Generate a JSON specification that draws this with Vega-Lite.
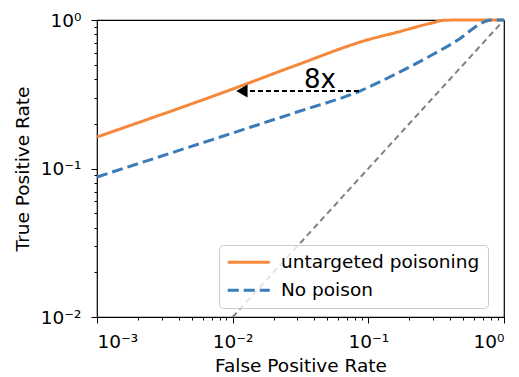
{
  "$schema": "https://vega.github.io/schema/vega-lite/v6.json",
  "width": 407,
  "height": 297,
  "autosize": "none",
  "padding": {"left": 97, "top": 20, "right": 15, "bottom": 60},
  "config": {
    "font": "DejaVu Sans",
    "view": {"stroke": "black", "strokeWidth": 1.2},
    "axis": {
      "domain": false,
      "grid": false,
      "ticks": true,
      "tickColor": "black",
      "tickWidth": 1,
      "labelColor": "black",
      "labelFontSize": 18.5,
      "titleFontSize": 18.5,
      "titleFontWeight": "normal",
      "titleColor": "black"
    }
  },
  "datasets": {
    "curves": [
      {"fpr": 0.001, "tpr": 0.163, "series": "untargeted poisoning"},
      {"fpr": 0.01, "tpr": 0.343, "series": "untargeted poisoning"},
      {"fpr": 0.0298, "tpr": 0.498, "series": "untargeted poisoning"},
      {"fpr": 0.0977, "tpr": 0.733, "series": "untargeted poisoning"},
      {"fpr": 0.165, "tpr": 0.83, "series": "untargeted poisoning"},
      {"fpr": 0.294, "tpr": 0.955, "series": "untargeted poisoning"},
      {"fpr": 0.36, "tpr": 0.995, "series": "untargeted poisoning"},
      {"fpr": 0.45, "tpr": 1.0, "series": "untargeted poisoning"},
      {"fpr": 1.0, "tpr": 1.0, "series": "untargeted poisoning"},
      {"fpr": 0.001, "tpr": 0.0877, "series": "No poison"},
      {"fpr": 0.01, "tpr": 0.1734, "series": "No poison"},
      {"fpr": 0.0298, "tpr": 0.24, "series": "No poison"},
      {"fpr": 0.0867, "tpr": 0.3325, "series": "No poison"},
      {"fpr": 0.165, "tpr": 0.44, "series": "No poison"},
      {"fpr": 0.294, "tpr": 0.581, "series": "No poison"},
      {"fpr": 0.457, "tpr": 0.733, "series": "No poison"},
      {"fpr": 0.687, "tpr": 0.955, "series": "No poison"},
      {"fpr": 0.8, "tpr": 1.0, "series": "No poison"},
      {"fpr": 1.0, "tpr": 1.0, "series": "No poison"}
    ],
    "diagonal": [
      {"fpr": 0.01, "tpr": 0.01},
      {"fpr": 1.0, "tpr": 1.0}
    ],
    "arrow": [
      {"x1": 0.0117, "x2": 0.087, "y": 0.333, "tip": 0.0117, "labelx": 0.044, "label": "8x"}
    ]
  },
  "layer": [
    {
      "data": {"name": "diagonal"},
      "mark": {"type": "line", "color": "#808080", "strokeWidth": 2, "strokeDash": [6, 4]},
      "encoding": {
        "x": {
          "field": "fpr", "type": "quantitative",
          "scale": {"type": "log", "domain": [0.001, 1], "nice": false},
          "axis": {"orient": "bottom", "title": null, "labels": false, "tickSize": 3, "offset": 0,
                   "values": [0.002,0.003,0.004,0.005,0.006,0.007,0.008,0.009,0.02,0.03,0.04,0.05,0.06,0.07,0.08,0.09,0.2,0.3,0.4,0.5,0.6,0.7,0.8,0.9]}
        },
        "y": {
          "field": "tpr", "type": "quantitative",
          "scale": {"type": "log", "domain": [0.01, 1], "nice": false},
          "axis": {"orient": "left", "title": null, "labels": false, "tickSize": 3, "offset": 0,
                   "values": [0.02,0.03,0.04,0.05,0.06,0.07,0.08,0.09,0.2,0.3,0.4,0.5,0.6,0.7,0.8,0.9]}
        }
      }
    },
    {
      "data": {"name": "curves"},
      "mark": {"type": "line", "strokeWidth": 3, "interpolate": "monotone"},
      "encoding": {
        "x": {
          "field": "fpr", "type": "quantitative",
          "axis": {"orient": "bottom", "title": "False Positive Rate", "tickSize": 6, "offset": 0,
                   "values": [0.001, 0.01, 0.1, 1], "labelPadding": 9, "titlePadding": 6,
                   "labelExpr": "datum.value == 1 ? '10⁰' : datum.value == 0.1 ? '10⁻¹' : datum.value == 0.01 ? '10⁻²' : '10⁻³'"}
        },
        "y": {
          "field": "tpr", "type": "quantitative",
          "axis": {"orient": "left", "title": "True Positive Rate", "tickSize": 6, "offset": 0,
                   "values": [0.01, 0.1, 1], "labelPadding": 10, "titlePadding": 8,
                   "labelExpr": "datum.value == 1 ? '10⁰' : datum.value == 0.1 ? '10⁻¹' : '10⁻²'"}
        },
        "color": {
          "field": "series", "type": "nominal", "title": null,
          "scale": {"domain": ["untargeted poisoning", "No poison"], "range": ["#f5883a", "#3a7bb8"]},
          "legend": {
            "orient": "none", "legendX": 122, "legendY": 225,
            "symbolType": "M-3,0L3,0", "symbolSize": 196, "symbolStrokeWidth": 3,
            "symbolOffset": 12.5,
            "labelFontSize": 18.5, "labelColor": "black", "labelOffset": 23, "labelLimit": 400,
            "padding": 8, "rowPadding": 9,
            "fillColor": "rgba(255,255,255,0.8)", "strokeColor": "#cccccc", "cornerRadius": 4
          }
        },
        "strokeDash": {
          "field": "series", "type": "nominal", "title": null,
          "scale": {"domain": ["untargeted poisoning", "No poison"], "range": [[1, 0], [11, 5]]}
        }
      }
    },
    {
      "data": {"name": "arrow"},
      "mark": {"type": "rule", "color": "black", "strokeWidth": 2, "strokeDash": [5, 3]},
      "encoding": {
        "x": {"field": "x1", "type": "quantitative", "axis": null},
        "x2": {"field": "x2"},
        "y": {"field": "y", "type": "quantitative", "axis": null}
      }
    },
    {
      "data": {"name": "arrow"},
      "mark": {"type": "point", "shape": "triangle-left", "filled": true, "color": "black", "opacity": 1, "size": 170},
      "encoding": {
        "x": {"field": "tip", "type": "quantitative", "axis": null},
        "y": {"field": "y", "type": "quantitative", "axis": null}
      }
    },
    {
      "data": {"name": "arrow"},
      "mark": {"type": "text", "fontSize": 26, "baseline": "alphabetic", "dy": -3, "align": "center", "color": "black"},
      "encoding": {
        "x": {"field": "labelx", "type": "quantitative", "axis": null},
        "y": {"field": "y", "type": "quantitative", "axis": null},
        "text": {"field": "label"}
      }
    }
  ],
  "resolve": {"axis": {"x": "independent", "y": "independent"}}
}
